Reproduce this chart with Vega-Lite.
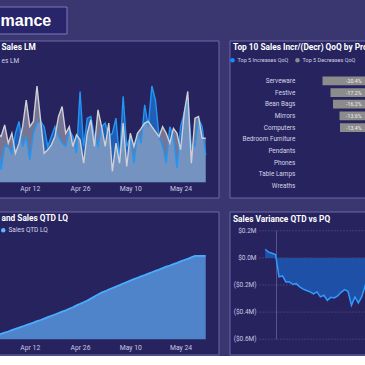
{
"$schema": "https://vega.github.io/schema/vega-lite/v6.json",
"background": "#3A3670",
"padding": {"left": -2.5, "top": 5.5, "right": 0, "bottom": 0},
"config": {
 "font": "Roboto",
 "view": {"stroke": null},
 "title": {"color": "#FFFFFF", "fontSize": 8.3, "fontWeight": "bold", "anchor": "start", "frame": "group", "font": "Roboto"},
 "axis": {"grid": false, "domain": false, "ticks": false, "labelFont": "Roboto", "labelColor": "#C9C8E2", "labelOverlap": false, "labelFlush": false},
 "legend": {"labelFont": "Roboto", "padding": 0}
},
"spacing": 5,
"resolve": {"scale": {"color": "independent"}, "legend": {"color": "independent"}},
"vconcat": [
 {
  "width": 68, "height": 27,
  "view": {"fill": "#29256A", "stroke": "#7C79B6", "strokeWidth": 1},
  "title": {"text": "mance", "offset": -22, "dx": 2, "fontSize": 16, "font": "Liberation Sans", "fontWeight": "bold", "color": "#FFFFFF"},
  "data": {"values": [{"t": "mance"}]},
  "mark": {"type": "point", "opacity": 0},
  "encoding": {}
 },
 {
  "spacing": 12,
  "resolve": {"scale": {"color": "independent"}, "legend": {"color": "independent"}},
  "vconcat": [
   {
    "spacing": 9,
    "resolve": {"scale": {"color": "independent"}, "legend": {"color": "independent"}},
    "hconcat": [
     {
      "width": 220, "height": 157,
      "view": {"fill": "#27235F", "stroke": "#6C69A8", "strokeWidth": 1},
      "title": {"text": "Sales LM", "dx": 3, "offset": -23.5, "subtitle": "es LM", "subtitleFontSize": 6.5, "subtitleColor": "#D0D0E4", "subtitleFont": "Roboto", "subtitleFontWeight": "normal", "subtitlePadding": 6, "subtitleDx": -1},
      "data": {"values": [
{"date":"2024-04-01","s":14.2,"lm":19.0},
{"date":"2024-04-02","s":6.9,"lm":15.4},
{"date":"2024-04-03","s":16.6,"lm":17.8},
{"date":"2024-04-04","s":4.5,"lm":16.6},
{"date":"2024-04-05","s":13.0,"lm":20.8},
{"date":"2024-04-06","s":13.0,"lm":14.2},
{"date":"2024-04-07","s":10.5,"lm":17.8},
{"date":"2024-04-08","s":17.8,"lm":10.5},
{"date":"2024-04-09","s":22.1,"lm":14.2},
{"date":"2024-04-10","s":13.0,"lm":20.2},
{"date":"2024-04-11","s":16.6,"lm":29.9},
{"date":"2024-04-12","s":8.1,"lm":20.2},
{"date":"2024-04-13","s":17.8,"lm":22.1},
{"date":"2024-04-14","s":21.5,"lm":35.0},
{"date":"2024-04-15","s":22.1,"lm":22.7},
{"date":"2024-04-16","s":20.2,"lm":10.5},
{"date":"2024-04-17","s":13.0,"lm":11.8},
{"date":"2024-04-18","s":16.6,"lm":13.6},
{"date":"2024-04-19","s":20.2,"lm":16.6},
{"date":"2024-04-20","s":16.6,"lm":23.9},
{"date":"2024-04-21","s":14.2,"lm":27.5},
{"date":"2024-04-22","s":13.0,"lm":17.8},
{"date":"2024-04-23","s":19.0,"lm":20.2},
{"date":"2024-04-24","s":16.6,"lm":13.0},
{"date":"2024-04-25","s":10.5,"lm":17.2},
{"date":"2024-04-26","s":33.0,"lm":15.4},
{"date":"2024-04-27","s":13.0,"lm":6.9},
{"date":"2024-04-28","s":23.3,"lm":17.8},
{"date":"2024-04-29","s":23.9,"lm":22.7},
{"date":"2024-04-30","s":16.6,"lm":13.0},
{"date":"2024-05-01","s":13.0,"lm":26.3},
{"date":"2024-05-02","s":20.2,"lm":20.2},
{"date":"2024-05-03","s":21.5,"lm":13.0},
{"date":"2024-05-04","s":16.6,"lm":21.5},
{"date":"2024-05-05","s":17.8,"lm":3.9},
{"date":"2024-05-06","s":23.3,"lm":14.2},
{"date":"2024-05-07","s":8.1,"lm":6.9},
{"date":"2024-05-08","s":31.2,"lm":21.5},
{"date":"2024-05-09","s":13.0,"lm":5.7},
{"date":"2024-05-10","s":16.6,"lm":17.8},
{"date":"2024-05-11","s":6.9,"lm":13.0},
{"date":"2024-05-12","s":17.8,"lm":17.8},
{"date":"2024-05-13","s":14.2,"lm":19.6},
{"date":"2024-05-14","s":28.1,"lm":21.5},
{"date":"2024-05-15","s":20.2,"lm":22.1},
{"date":"2024-05-16","s":35.0,"lm":20.2},
{"date":"2024-05-17","s":29.9,"lm":18.4},
{"date":"2024-05-18","s":16.6,"lm":16.6},
{"date":"2024-05-19","s":13.0,"lm":20.2},
{"date":"2024-05-20","s":6.9,"lm":17.8},
{"date":"2024-05-21","s":20.2,"lm":14.2},
{"date":"2024-05-22","s":16.6,"lm":19.6},
{"date":"2024-05-23","s":5.1,"lm":17.8},
{"date":"2024-05-24","s":20.2,"lm":11.8},
{"date":"2024-05-25","s":25.1,"lm":25.1},
{"date":"2024-05-26","s":30.5,"lm":33.0},
{"date":"2024-05-27","s":13.0,"lm":6.9},
{"date":"2024-05-28","s":13.0,"lm":23.3},
{"date":"2024-05-29","s":23.3,"lm":23.9},
{"date":"2024-05-30","s":20.2,"lm":16.0},
{"date":"2024-05-31","s":9.9,"lm":16.0}
      ]},
      "encoding": {
       "x": {"field": "date", "type": "temporal",
        "scale": {"type": "utc", "nice": false, "domain": [{"year":2024,"month":4,"date":3,"hours":6,"minutes":45,"utc":true},{"year":2024,"month":6,"date":3,"hours":13,"minutes":30,"utc":true}]},
        "axis": {"values": [{"year":2024,"month":4,"date":12,"utc":true},{"year":2024,"month":4,"date":26,"utc":true},{"year":2024,"month":5,"date":10,"utc":true},{"year":2024,"month":5,"date":24,"utc":true}],
          "labelExpr": "utcFormat(datum.value, '%b %d')", "labelFontSize": 6.8, "offset": -12.4, "labelPadding": 0, "title": null}}
      },
      "layer": [
       {"mark": {"type": "area", "color": "#1E90FF", "opacity": 0.55, "clip": true},
        "encoding": {
         "y": {"field": "s", "type": "quantitative", "scale": {"domain": [-5.56, 51.53], "nice": false, "zero": false},
          "axis": {"values": [10,20,30,40], "labels": false, "grid": true, "gridDash": [1,2], "gridColor": "#6B6895", "gridWidth": 0.8, "title": null}},
         "y2": {"datum": 0}}},
       {"mark": {"type": "area", "color": "#C8C8CC", "opacity": 0.5, "clip": true},
        "encoding": {"y": {"field": "lm", "type": "quantitative", "axis": null}, "y2": {"datum": 0}}},
       {"mark": {"type": "line", "color": "#2196F3", "strokeWidth": 1.4, "clip": true},
        "encoding": {"y": {"field": "s", "type": "quantitative", "axis": null}}},
       {"mark": {"type": "line", "color": "#CFCFD4", "strokeWidth": 1.4, "clip": true},
        "encoding": {"y": {"field": "lm", "type": "quantitative", "axis": null}}}
      ]
     },
     {
      "width": 145, "height": 157,
      "view": {"fill": "#27235F", "stroke": "#6C69A8", "strokeWidth": 1},
      "title": {"text": "Top 10 Sales Incr/(Decr) QoQ by Product", "dx": 3.5, "offset": -11},
      "data": {"values": [
{"cat":"Serveware","pct":-20.4,"type":"Top 5 Decreases QoQ","lbl":"-20.4%"},
{"cat":"Festive","pct":-17.2,"type":"Top 5 Decreases QoQ","lbl":"-17.2%"},
{"cat":"Bean Bags","pct":-16.2,"type":"Top 5 Decreases QoQ","lbl":"-16.2%"},
{"cat":"Mirrors","pct":-13.6,"type":"Top 5 Decreases QoQ","lbl":"-13.6%"},
{"cat":"Computers","pct":-13.4,"type":"Top 5 Decreases QoQ","lbl":"-13.4%"},
{"cat":"Bedroom Furniture","pct":19.6,"type":"Top 5 Increases QoQ","lbl":"19.6%"},
{"cat":"Pendants","pct":14.5,"type":"Top 5 Increases QoQ","lbl":"14.5%"},
{"cat":"Phones","pct":12.1,"type":"Top 5 Increases QoQ","lbl":"12.1%"},
{"cat":"Table Lamps","pct":10.3,"type":"Top 5 Increases QoQ","lbl":"10.3%"},
{"cat":"Wreaths","pct":8.7,"type":"Top 5 Increases QoQ","lbl":"8.7%"}
      ]},
      "encoding": {
       "y": {"field": "cat", "type": "nominal", "sort": null,
        "scale": {"range": [34.5, 151.2], "paddingInner": 0.25, "paddingOuter": 0.125},
        "axis": {"title": null, "offset": -67.3, "labelPadding": 2, "labelFontSize": 6.4, "labelColor": "#D4D3E6"}}
      },
      "layer": [
       {"mark": {"type": "bar", "clip": true},
        "encoding": {
         "x": {"field": "pct", "type": "quantitative", "stack": null, "scale": {"domain": [-57.6, 0.4], "nice": false, "zero": false}, "axis": null},
         "color": {"field": "type", "type": "nominal",
          "scale": {"domain": ["Top 5 Increases QoQ", "Top 5 Decreases QoQ"], "range": ["#118DFF", "#8C8C8C"]},
          "legend": {"orient": "none", "legendX": 0, "legendY": 16.5, "direction": "horizontal", "title": null, "symbolType": "circle", "symbolSize": 20, "labelFontSize": 5.5, "labelColor": "#CFCFE3", "columnPadding": 6, "labelOffset": 2}}}},
       {"transform": [{"filter": "datum.pct < 0"}],
        "mark": {"type": "text", "fontSize": 5.2, "color": "#F0F0F0", "align": "center", "baseline": "middle"},
        "encoding": {"x": {"datum": -7.9, "type": "quantitative"}, "text": {"field": "lbl"}}}
      ]
     }
    ]
   },
   {
    "spacing": 9,
    "resolve": {"scale": {"color": "independent"}, "legend": {"color": "independent"}},
    "hconcat": [
     {
      "width": 220, "height": 143,
      "view": {"fill": "#27235F", "stroke": "#6C69A8", "strokeWidth": 1},
      "title": {"text": "and Sales QTD LQ", "dx": 3, "offset": -10.7},
      "data": {"values": [
{"date":"2024-04-01","q":0.6},{"date":"2024-04-02","q":1.2},{"date":"2024-04-03","q":1.7},{"date":"2024-04-04","q":2.2},
{"date":"2024-04-05","q":2.7},{"date":"2024-04-06","q":3.2},{"date":"2024-04-07","q":3.8},{"date":"2024-04-08","q":4.3},
{"date":"2024-04-09","q":4.8},{"date":"2024-04-10","q":5.3},{"date":"2024-04-11","q":5.9},{"date":"2024-04-12","q":6.4},
{"date":"2024-04-13","q":6.9},{"date":"2024-04-14","q":7.5},{"date":"2024-04-15","q":8.0},{"date":"2024-04-16","q":8.6},
{"date":"2024-04-17","q":9.2},{"date":"2024-04-18","q":9.7},{"date":"2024-04-19","q":10.3},{"date":"2024-04-20","q":10.9},
{"date":"2024-04-21","q":11.5},{"date":"2024-04-22","q":12.0},{"date":"2024-04-23","q":12.7},{"date":"2024-04-24","q":13.3},
{"date":"2024-04-25","q":14.1},{"date":"2024-04-26","q":14.7},{"date":"2024-04-27","q":15.4},{"date":"2024-04-28","q":16.1},
{"date":"2024-04-29","q":16.9},{"date":"2024-04-30","q":17.8},{"date":"2024-05-01","q":18.6},{"date":"2024-05-02","q":19.4},
{"date":"2024-05-03","q":20.0},{"date":"2024-05-04","q":20.7},{"date":"2024-05-05","q":21.3},{"date":"2024-05-06","q":21.9},
{"date":"2024-05-07","q":22.5},{"date":"2024-05-08","q":23.2},{"date":"2024-05-09","q":23.8},{"date":"2024-05-10","q":24.4},
{"date":"2024-05-11","q":25.0},{"date":"2024-05-12","q":25.6},{"date":"2024-05-13","q":26.2},{"date":"2024-05-14","q":26.7},
{"date":"2024-05-15","q":27.3},{"date":"2024-05-16","q":27.9},{"date":"2024-05-17","q":28.5},{"date":"2024-05-18","q":29.0},
{"date":"2024-05-19","q":29.6},{"date":"2024-05-20","q":30.2},{"date":"2024-05-21","q":30.7},{"date":"2024-05-22","q":31.3},
{"date":"2024-05-23","q":31.8},{"date":"2024-05-24","q":32.4},{"date":"2024-05-25","q":33.0},{"date":"2024-05-26","q":33.5},
{"date":"2024-05-27","q":34.1},{"date":"2024-05-28","q":34.7},{"date":"2024-05-29","q":34.7},{"date":"2024-05-30","q":34.7},
{"date":"2024-05-31","q":34.7}
      ]},
      "encoding": {
       "x": {"field": "date", "type": "temporal",
        "scale": {"type": "utc", "nice": false, "domain": [{"year":2024,"month":4,"date":3,"hours":6,"minutes":45,"utc":true},{"year":2024,"month":6,"date":3,"hours":13,"minutes":30,"utc":true}]},
        "axis": {"values": [{"year":2024,"month":4,"date":12,"utc":true},{"year":2024,"month":4,"date":26,"utc":true},{"year":2024,"month":5,"date":10,"utc":true},{"year":2024,"month":5,"date":24,"utc":true}],
          "labelExpr": "utcFormat(datum.value, '%b %d')", "labelFontSize": 6.8, "offset": -10.4, "labelPadding": 0, "title": null}}
      },
      "layer": [
       {"mark": {"type": "area", "color": "#4F84CA", "clip": true},
        "encoding": {
         "y": {"field": "q", "type": "quantitative", "scale": {"domain": [-6.375, 53.2], "nice": false, "zero": false},
          "axis": {"values": [10,20,30,40], "labels": false, "grid": true, "gridDash": [1,2], "gridColor": "#6B6895", "gridWidth": 0.8, "title": null}},
         "y2": {"datum": 0}}},
       {"mark": {"type": "line", "strokeWidth": 1.8, "clip": true},
        "encoding": {
         "y": {"field": "q", "type": "quantitative", "axis": null},
         "color": {"datum": "Sales QTD LQ", "scale": {"range": ["#48ADFF"]},
          "legend": {"orient": "none", "legendX": 1.5, "legendY": 15.5, "title": null, "symbolType": "circle", "symbolSize": 20, "symbolFillColor": "#5EB6FF", "symbolStrokeColor": "#5EB6FF", "symbolStrokeWidth": 0, "labelFontSize": 6.5, "labelColor": "#D6D6E8", "labelOffset": 2}}}}
      ]
     },
     {
      "width": 145, "height": 143,
      "view": {"fill": "#27235F", "stroke": "#6C69A8", "strokeWidth": 1},
      "title": {"text": "Sales Variance QTD vs PQ", "dx": 3.5, "offset": -11.7},
      "layer": [
       {"data": {"values": [{"g":0.2,"lbl":"$0.2M"},{"g":0,"lbl":"$0.0M"},{"g":-0.2,"lbl":"($0.2M)"},{"g":-0.4,"lbl":"($0.4M)"},{"g":-0.6,"lbl":"($0.6M)"}]},
        "mark": {"type": "rule", "color": "#6B6895", "strokeDash": [1,2], "strokeWidth": 0.8, "clip": true},
        "encoding": {
         "x": {"datum": {"year":2024,"month":3,"date":30,"hours":8,"minutes":21,"utc":true}, "type": "temporal",
          "scale": {"type": "utc", "nice": false, "domain": [{"year":2024,"month":3,"date":21,"hours":15,"minutes":39,"utc":true},{"year":2024,"month":5,"date":2,"hours":16,"minutes":21,"utc":true}]},
          "axis": {"values": [{"year":2024,"month":4,"date":12,"utc":true},{"year":2024,"month":4,"date":26,"utc":true},{"year":2024,"month":5,"date":10,"utc":true}],
            "labelExpr": "utcFormat(datum.value, '%b %d')", "labelFontSize": 6.8, "offset": -10.4, "labelPadding": 0, "title": null}},
         "x2": {"datum": {"year":2024,"month":6,"date":1,"utc":true}},
         "y": {"field": "g", "type": "quantitative", "scale": {"domain": [-0.7129, 0.3424], "nice": false, "zero": false}, "axis": null}}},
       {"data": {"values": [{"g":0.2,"lbl":"$0.2M"},{"g":0,"lbl":"$0.0M"},{"g":-0.2,"lbl":"($0.2M)"},{"g":-0.4,"lbl":"($0.4M)"},{"g":-0.6,"lbl":"($0.6M)"}]},
        "mark": {"type": "text", "align": "right", "baseline": "middle", "fontSize": 6.5, "color": "#C9C8E2", "font": "Roboto"},
        "encoding": {
         "x": {"datum": {"year":2024,"month":3,"date":29,"hours":11,"minutes":31,"utc":true}, "type": "temporal"},
         "y": {"field": "g", "type": "quantitative", "axis": null},
         "text": {"field": "lbl"}}},
       {"data": {"values": [{"m": "2024-04-04T06:40:00Z"}]},
        "mark": {"type": "rule", "color": "#A09DD0", "opacity": 0.4, "strokeWidth": 1, "clip": true},
        "encoding": {
         "x": {"field": "m", "type": "temporal", "axis": null},
         "y": {"datum": 0.2, "type": "quantitative", "axis": null}, "y2": {"datum": -0.6}}},
       {"data": {"name": "bv", "values": [
{"date":"2024-04-01","v":0.064},{"date":"2024-04-02","v":0.042},{"date":"2024-04-03","v":0.034},{"date":"2024-04-04","v":0.025},
{"date":"2024-04-05","v":-0.14},{"date":"2024-04-06","v":-0.133},{"date":"2024-04-07","v":-0.177},{"date":"2024-04-08","v":-0.177},
{"date":"2024-04-09","v":-0.195},{"date":"2024-04-10","v":-0.19},{"date":"2024-04-11","v":-0.214},{"date":"2024-04-12","v":-0.231},
{"date":"2024-04-13","v":-0.241},{"date":"2024-04-14","v":-0.251},{"date":"2024-04-15","v":-0.266},{"date":"2024-04-16","v":-0.251},
{"date":"2024-04-17","v":-0.288},{"date":"2024-04-18","v":-0.276},{"date":"2024-04-19","v":-0.313},{"date":"2024-04-20","v":-0.291},
{"date":"2024-04-21","v":-0.295},{"date":"2024-04-22","v":-0.281},{"date":"2024-04-23","v":-0.254},{"date":"2024-04-24","v":-0.234},
{"date":"2024-04-25","v":-0.246},{"date":"2024-04-26","v":-0.35},{"date":"2024-04-27","v":-0.288},{"date":"2024-04-28","v":-0.332},
{"date":"2024-04-29","v":-0.286},{"date":"2024-04-30","v":-0.202},{"date":"2024-05-01","v":-0.19},{"date":"2024-05-02","v":-0.17},
{"date":"2024-05-03","v":-0.16}
        ]},
        "mark": {"type": "area", "color": "#1F50A8", "clip": true},
        "encoding": {
         "x": {"field": "date", "type": "temporal", "axis": null},
         "y": {"field": "v", "type": "quantitative", "axis": null},
         "y2": {"datum": 0}}},
       {"data": {"name": "bv"},
        "mark": {"type": "line", "color": "#3399FF", "strokeWidth": 1.5, "clip": true},
        "encoding": {
         "x": {"field": "date", "type": "temporal", "axis": null},
         "y": {"field": "v", "type": "quantitative", "axis": null}}}
      ]
     }
    ]
   }
  ]
 }
]
}
